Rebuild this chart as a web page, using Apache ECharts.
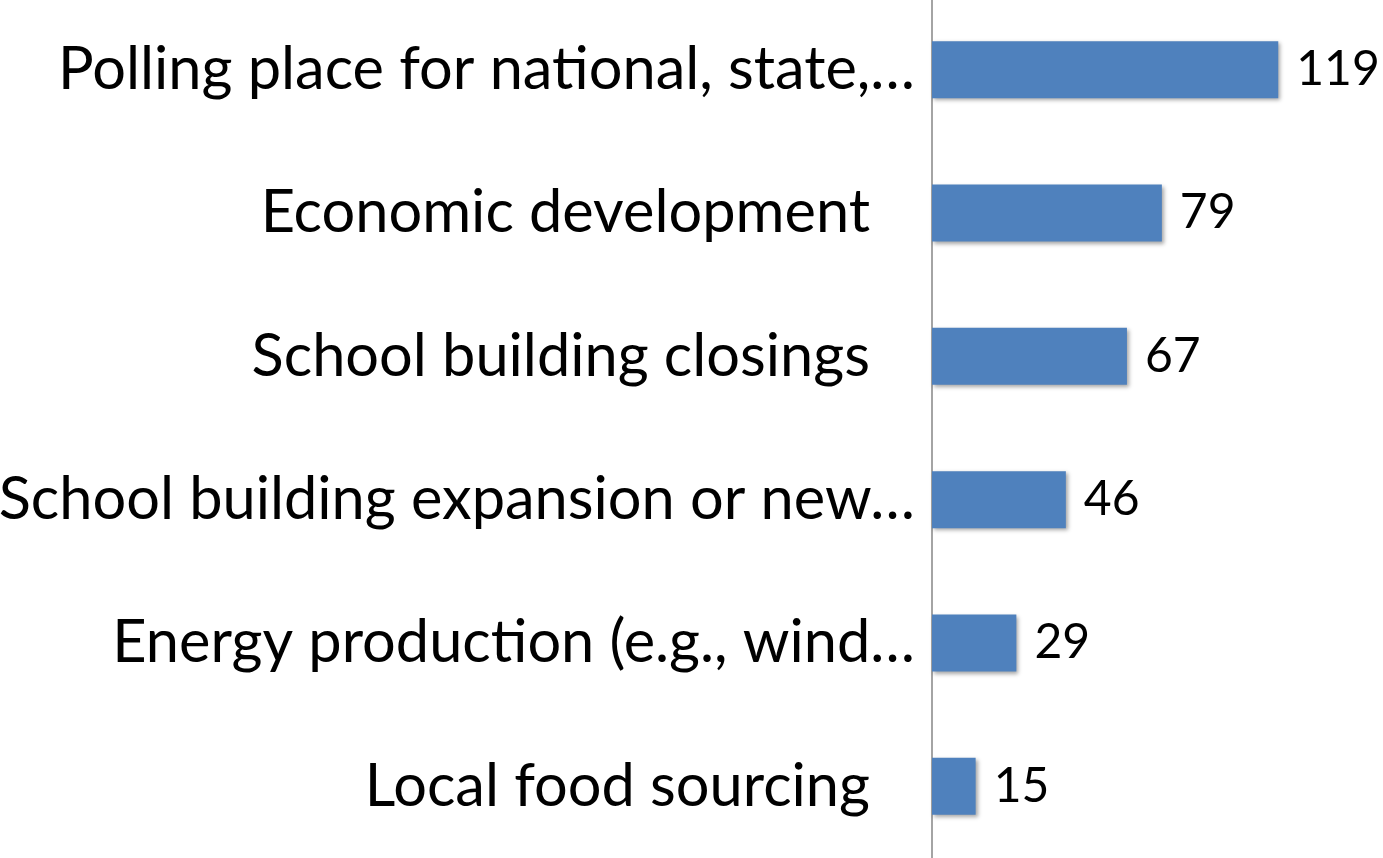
<!DOCTYPE html>
<html>
<head>
<meta charset="utf-8">
<script src="https://cdn.jsdelivr.net/npm/echarts@6/dist/echarts.min.js"></script>
<style>
  html, body { margin: 0; padding: 0; background: #fff; }
  #chart { width: 1383px; height: 858px; }
</style>
</head>
<body>
<div id="chart"></div>
<script>
const categories = [
  'Polling place for national, state,…',
  'Economic development',
  'School building closings',
  'School building expansion or new…',
  'Energy production (e.g., wind…',
  'Local food sourcing'
];
const values = [119, 79, 67, 46, 29, 15];

const chart = echarts.init(document.getElementById('chart'));

chart.setOption({
  animation: false,
  textStyle: { fontFamily: 'Lato' },
  grid: { left: 932, right: 0, top: -2, bottom: 0, outerBoundsMode: 'none', containLabel: false },
  xAxis: {
    type: 'value',
    min: 0,
    max: 155,
    show: false
  },
  yAxis: {
    type: 'category',
    data: categories,
    inverse: true,
    axisLine: { show: true, lineStyle: { color: '#868686', width: 1.5 } },
    axisTick: { show: false },
    axisLabel: {
      margin: 17,
      // labels cut with an ellipsis sit further right than the full ones
      formatter: (v) => v.endsWith('…') ? '{a|' + v + '}' : '{b|' + v + '}',
      rich: {
        a: { fontSize: 59.5, color: '#000', fontFamily: 'Lato' },
        b: { fontSize: 59.5, color: '#000', fontFamily: 'Lato', padding: [0, 45, 0, 0] }
      }
    }
  },
  series: [{
    type: 'bar',
    data: values,
    barWidth: 57,
    itemStyle: {
      color: '#4F81BD',
      shadowColor: 'rgba(0,0,0,0.35)',
      shadowBlur: 4,
      shadowOffsetX: 2,
      shadowOffsetY: 2
    },
    label: {
      show: true,
      position: 'right',
      distance: 18,
      color: '#000',
      fontSize: 48,
      fontFamily: 'Lato'
    }
  }]
});
</script>
</body>
</html>
